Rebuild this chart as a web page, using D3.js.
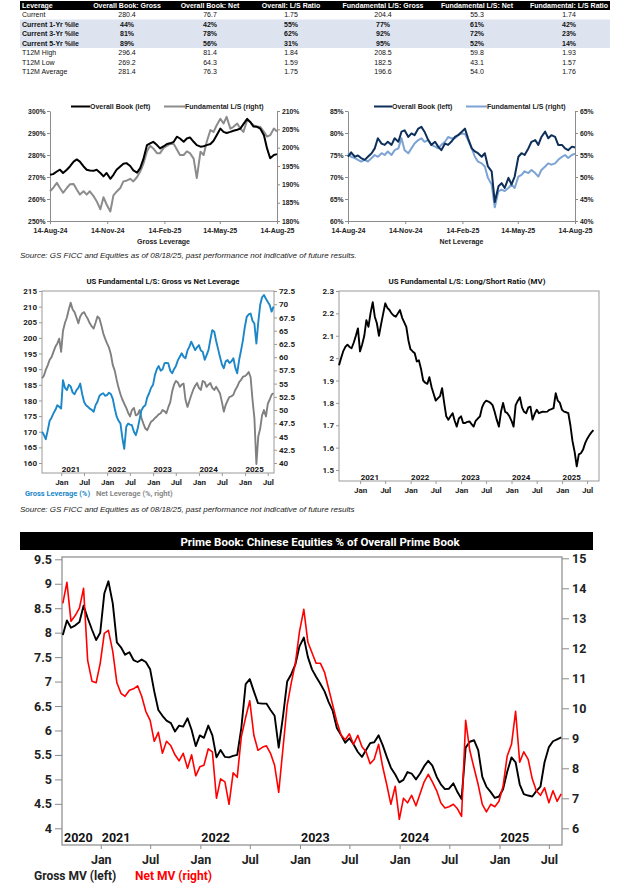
<!doctype html>
<html lang="en">
<head>
<meta charset="UTF-8" />
<title>Prime Book Leverage</title>
<style>
  body { margin: 0; background: #fff; }
  svg { display: block; }
</style>
</head>
<body>
<svg id="chart" width="618" height="891"></svg>
<script src="https://cdn.jsdelivr.net/npm/d3@7"></script>
<script>
// ---------- table ----------
const tableHeader = ["Leverage", "Overall Book: Gross", "Overall Book: Net", "Overall: L/S Ratio",
  "Fundamental L/S: Gross", "Fundamental L/S: Net", "Fundamental: L/S Ratio"];
const tableRows = [
  ["Current", "280.4", "76.7", "1.75", "204.4", "55.3", "1.74"],
  ["Current 1-Yr %ile", "44%", "42%", "55%", "77%", "61%", "42%"],
  ["Current 3-Yr %ile", "81%", "78%", "62%", "92%", "72%", "23%"],
  ["Current 5-Yr %ile", "89%", "56%", "31%", "95%", "52%", "14%"],
  ["T12M High", "296.4", "81.4", "1.84", "208.5", "59.8", "1.93"],
  ["T12M Low", "269.2", "64.3", "1.59", "182.5", "43.1", "1.57"],
  ["T12M Average", "281.4", "76.3", "1.75", "196.6", "54.0", "1.76"]
];

// ---------- one-year panels, 14-Aug-24 .. 14-Aug-25 ----------
const overallGross = [271, 271.3, 272.5, 273.3, 271.8, 273.3, 274.8, 277, 278, 277,
  274.8, 273.3, 273, 272.8, 273.3, 271.8, 270.3, 271.8, 269.2, 271,
  273.3, 274.8, 276, 276.3, 275, 273, 272, 274, 278, 284.5,
  285.3, 286, 284.5, 283, 284, 285, 285.3, 286, 288.3, 287.5,
  286, 287.5, 288, 286, 284.5, 283.8, 284, 284.5, 285, 286.5,
  289, 292, 290.5, 290, 290.5, 291, 291.5, 292, 294, 296.4,
  295, 293, 292.8, 292, 289, 283, 278.5, 280, 280.4];
const fundGross = [188.1, 189, 190.4, 189, 187.7, 189, 190, 190.1, 188.6, 187.2,
  188.1, 187.2, 188.1, 186.8, 185.4, 183.2, 186.5, 184.5, 182.6, 187,
  188, 189, 190.8, 191, 191.5, 190.8, 192, 193.5, 195.5, 199,
  200.5, 199.8, 198.5, 198.5, 200, 200.5, 201, 201, 199.5, 198,
  198, 199, 198.5, 197, 191.7, 198.9, 198, 201.6, 204.8, 204.3,
  206.1, 207.9, 206.6, 208.4, 205.2, 205.7, 206.6, 205.2, 204.3, 207.5,
  207, 206.1, 205.7, 205.7, 204.3, 203, 203.4, 205.2, 204.4];
const overallNet = [74.6, 75.6, 74.6, 74.9, 74.3, 73.9, 74.6, 75.4, 76.5, 78.8,
  77.6, 77.3, 78.0, 77.3, 78.8, 78.0, 80.3, 80.6, 79.1, 79.9,
  79.5, 81.0, 81.4, 80.3, 78.4, 77.3, 78.0, 76.9, 76.1, 77.6,
  77.3, 78.0, 79.1, 79.5, 80.3, 81.0, 78.8, 76.5, 75.8, 75.4,
  74.6, 75.4, 72.4, 71.3, 64.3, 67.9, 68.6, 67.5, 69.8, 68.3,
  70.1, 74.6, 75.4, 75.0, 76.5, 78.0, 78.4, 77.3, 79.1, 80.3,
  78.8, 79.5, 79.1, 77.3, 77.3, 76.5, 76.1, 76.9, 76.7];
const fundNet = [55.4, 54.6, 54.3, 53.9, 53.5, 53.9, 53.5, 54.3, 55.0, 54.6,
  55.4, 55.0, 55.8, 55.0, 56.1, 56.5, 58.8, 56.1, 55.4, 56.5,
  57.6, 58.4, 58.8, 58.0, 58.4, 57.3, 56.9, 56.5, 57.3, 58.0,
  59.1, 58.8, 58.8, 59.5, 59.9, 59.8, 58.4, 56.5, 54.6, 53.5,
  53.1, 52.4, 49.8, 48.3, 43.1, 46.8, 47.1, 46.8, 47.5, 48.3,
  47.5, 50.1, 50.5, 51.3, 50.9, 51.6, 50.9, 50.1, 51.6, 52.4,
  53.1, 52.8, 53.1, 53.9, 54.6, 55.0, 54.3, 55.0, 55.3];
const yearTickLabels = ["2024-08-14", "2024-11-14", "2025-02-14", "2025-05-14", "2025-08-14"];

// ---------- US Fundamental L/S, half-monthly from Aug 2020 ----------
const usGross = [170, 169, 167.6, 170.5, 173.5, 174.5, 175.9, 177, 178.5, 178,
  177.4, 186.5, 184, 183.3, 185, 184.5, 182.5, 182, 183.3, 184,
  185.4, 182, 179.5, 178.5, 178, 177.4, 177, 176.4, 178.5, 179.6,
  181.5, 182, 182.3, 181.5, 181.7, 182.5, 182, 180.5, 177.5, 174.8,
  173.5, 172.6, 168, 164.5, 171.6, 172.6, 172.3, 172.1, 170, 168.9,
  171, 174, 176.9, 178, 178.5, 181, 182.3, 184, 185, 188.1,
  190, 191, 189.5, 190, 191.9, 192, 191.9, 189.5, 188.7, 190,
  191, 192.9, 194, 195.1, 194, 193.5, 196, 197.2, 198.8, 197.5,
  196.1, 197, 197.7, 196, 195.6, 193, 194.5, 196.1, 199.5, 202.5,
  202, 199, 196.5, 194, 191.5, 190.3, 192.5, 192.9, 192, 192.5,
  193.5, 190.5, 188.7, 193, 196, 199.3, 203.5, 206.7, 207.5, 207.8,
  205.5, 204.6, 198.2, 205, 210.5, 213, 213.7, 212.5, 211.5, 210.5,
  208.4, 210];
const usNet = [56, 56.5, 57.6, 58.5, 59.5, 60, 61, 62, 62.6, 63.5,
  61, 65, 66.5, 67.5, 69, 70.3, 69, 68.5, 67.5, 66.4,
  67.7, 68.3, 68.5, 67.8, 67.2, 66.4, 65.8, 65.4, 66.5, 67.7,
  67.3, 66, 64.5, 63.5, 62.6, 61.8, 60.5, 58.5, 57.5, 55.7,
  54.2, 53, 52, 51.2, 50.4, 49.5, 48.8, 50, 50.4, 49,
  49.2, 50, 48.5, 47.4, 46.5, 46.2, 47, 47.8, 48.1, 48.5,
  48.8, 49.2, 49.4, 50, 49.8, 49.4, 50.5, 51.5, 53.5, 54.8,
  55.5, 55.2, 54.4, 54.8, 55, 52, 50.6, 51.7, 52.8, 53.8,
  54.6, 55.1, 54.2, 53.8, 55.5, 55.3, 54.4, 54.8, 55.1, 54.2,
  53.8, 54.4, 53.8, 53.2, 51.5, 49.7, 51, 51.8, 52.5, 52.6,
  52.9, 53.8, 54.4, 55.3, 55.7, 56.3, 56.4, 56.7, 57.2, 56.2,
  52, 48.5, 39.8, 45, 46.5, 49, 50, 48.8, 51.2, 52,
  52.9, 53.2];
const usRatio = [1.968, 2.0, 2.03, 2.05, 2.06, 2.05, 2.044, 2.07, 2.1, 2.133,
  2.03, 2.06, 2.1, 2.17, 2.14, 2.2, 2.25, 2.185, 2.156, 2.1,
  2.15, 2.2, 2.245, 2.225, 2.215, 2.2, 2.19, 2.185, 2.2, 2.215,
  2.18, 2.16, 2.14, 2.08, 2.04, 2.03, 2.022, 1.985, 1.99, 1.95,
  1.9, 1.89, 1.885, 1.915, 1.87, 1.84, 1.81, 1.82, 1.83, 1.866,
  1.8, 1.74, 1.725, 1.74, 1.754, 1.72, 1.694, 1.73, 1.74, 1.71,
  1.71, 1.715, 1.717, 1.705, 1.694, 1.72, 1.73, 1.74, 1.78, 1.8,
  1.81, 1.806, 1.8, 1.79, 1.76, 1.725, 1.694, 1.76, 1.8, 1.76,
  1.754, 1.74, 1.72, 1.694, 1.79, 1.81, 1.825, 1.78, 1.76, 1.754,
  1.78, 1.783, 1.725, 1.75, 1.769, 1.754, 1.758, 1.761, 1.76, 1.761,
  1.769, 1.772, 1.776, 1.843, 1.81, 1.8, 1.769, 1.761, 1.758, 1.754,
  1.7, 1.63, 1.58, 1.516, 1.57, 1.575, 1.59, 1.62, 1.64, 1.655,
  1.668, 1.678];
const grossTicks = [160, 165, 170, 175, 180, 185, 190, 195, 200, 205, 210, 215];
const netTicks = [40, 42.5, 45, 47.5, 50, 52.5, 55, 57.5, 60, 62.5, 65, 67.5, 70, 72.5];
const ratioTicks = [1.5, 1.6, 1.7, 1.8, 1.9, 2.0, 2.1, 2.2, 2.3];

// ---------- Prime Book China, half-monthly from mid-Aug 2020 ----------
const cnGross = [7.95, 8.25, 8.1, 8.15, 8.22, 8.55, 8.3, 8.06, 7.85, 8.0,
  8.8, 9.05, 8.6, 7.8, 7.7, 7.55, 7.6, 7.44, 7.4, 7.45,
  7.4, 7.25, 6.8, 6.42, 6.3, 6.2, 6.15, 5.98, 6.1, 6.08,
  6.25, 6.01, 5.68, 5.9, 5.85, 6.1, 5.9, 5.45, 5.6, 5.46,
  5.45, 5.48, 5.5, 6.05, 6.95, 7.05, 6.8, 6.56, 6.55, 6.55,
  6.42, 6.3, 5.65, 6.3, 7.0, 7.15, 7.35, 7.72, 7.9, 7.5,
  7.25, 7.1, 6.95, 6.8, 6.58, 6.4, 6.05, 5.9, 5.75, 5.84,
  5.72, 5.56, 5.46, 5.6, 5.74, 5.76, 5.9, 5.7, 5.46, 5.24,
  5.1, 4.94, 4.99, 5.15, 5.12, 5.0, 5.12, 5.27, 5.38, 5.28,
  5.05, 4.9, 4.8, 4.81, 4.92, 4.74, 4.6, 5.65, 5.77, 5.8,
  5.6, 5.05, 4.85, 4.74, 4.62, 4.65, 4.8, 5.15, 5.45, 5.35,
  4.9, 4.7, 4.67, 4.65, 4.76, 4.85, 5.35, 5.66, 5.78, 5.82,
  5.86];
const cnNet = [13.5, 14.2, 12.9, 13.1, 13.35, 14.0, 11.6, 10.9, 10.85, 11.5,
  12.5, 12.6, 11.9, 10.85, 10.5, 10.4, 10.6, 10.65, 10.75, 10.4,
  9.9, 9.6, 8.9, 9.2, 8.5, 8.9, 8.75, 8.45, 8.25, 8.5,
  8.0, 8.45, 7.75, 8.05, 8.1, 8.65, 8.55, 7.0, 7.65, 7.55,
  6.8, 7.85, 7.7, 9.05, 9.7, 10.25, 9.1, 8.6, 8.7, 8.75,
  8.5, 8.1, 7.2, 8.7, 10.1, 10.85, 11.5, 12.55, 13.3, 12.2,
  11.85, 11.5, 11.5, 11.2, 10.65, 10.1, 9.55, 9.1, 8.95, 9.15,
  8.8, 9.1, 8.72, 8.55, 8.15, 8.3, 8.8, 8.05, 7.45, 6.8,
  7.4, 6.3, 7.0, 6.85, 7.1, 6.75, 7.15, 7.55, 7.8, 7.55,
  7.25, 6.85, 6.68, 6.72, 6.8, 6.65, 6.4, 9.6, 8.6, 8.0,
  7.45, 6.8, 6.55, 6.8, 6.72, 6.9, 7.4, 8.4, 8.8, 9.9,
  8.2, 8.55, 8.3, 7.65, 7.25, 7.1, 7.35, 6.85, 7.25, 6.9,
  7.15];
const cnLeftTicks = [4, 4.5, 5, 5.5, 6, 6.5, 7, 7.5, 8, 8.5, 9, 9.5];
const cnRightTicks = [6, 7, 8, 9, 10, 11, 12, 13, 14, 15];

const yearLabels = [2021, 2022, 2023, 2024, 2025];
const monthLabels = ["2021-01-01", "2021-07-01", "2022-01-01", "2022-07-01", "2023-01-01",
  "2023-07-01", "2024-01-01", "2024-07-01", "2025-01-01", "2025-07-01"];

// ---------- helpers ----------
const svg = d3.select("#chart");
const SANS = '"Liberation Sans", Arial, sans-serif';
const ROB = 'Roboto, "Liberation Sans", sans-serif';
const parse = d3.timeParse("%Y-%m-%d");
const num = d => +(+d).toFixed(1) + "";

function txt(x, y, s, o = {}) {
  return svg.append("text").attr("x", x).attr("y", y).text(s)
    .attr("font-family", o.font || SANS).attr("font-size", o.size || 7)
    .attr("font-weight", o.weight || "normal").attr("font-style", o.style || "normal")
    .attr("fill", o.fill || "#000").attr("text-anchor", o.anchor || "start");
}

function styleAxis(sel, o) {
  sel.select(".domain").attr("stroke", o.domain ? o.stroke : "none");
  sel.selectAll(".tick line").attr("stroke", o.stroke);
  sel.selectAll(".tick text").attr("font-family", o.font).attr("font-size", o.size)
    .attr("font-weight", "bold").attr("fill", "#222");
}

function drawLine(data, dates, x, y, color, w) {
  svg.append("path").datum(data)
    .attr("d", d3.line().x((d, i) => x(dates[i])).y(d => y(d)))
    .attr("fill", "none").attr("stroke", color).attr("stroke-width", w)
    .attr("stroke-linejoin", "round");
}

const halfMonths = (start, n) => d3.range(n).map(i => d3.timeDay.offset(start, Math.round(i * 365.25 / 24)));

// ---------- table ----------
const colX = [22, 127, 210, 291, 383, 477, 569];
const rowH = 9.5, tTop = 1;
svg.append("rect").attr("x", 20).attr("y", tTop).attr("width", 590).attr("height", 9).attr("fill", "#000");
svg.append("rect").attr("x", 20).attr("y", tTop + 9 + rowH).attr("width", 590).attr("height", rowH * 3).attr("fill", "#dde4f0");
tableHeader.forEach((h, j) => txt(colX[j], tTop + 7, h, { weight: "bold", fill: "#fff", anchor: j ? "middle" : "start", size: 7 }));
tableRows.forEach((r, i) => r.forEach((c, j) =>
  txt(colX[j], tTop + 9 + rowH * i + 7, c, { weight: i >= 1 && i <= 3 ? "bold" : "normal", anchor: j ? "middle" : "start", size: 7, fill: "#111" })));

// ---------- one-year panels ----------
const wkStart = parse("2024-08-14"), wkEnd = parse("2025-08-14");
const wkDates = overallGross.map((_, i) => d3.timeDay.offset(wkStart, Math.round(i * 365 / 68)));

function yearPanel(o) {
  const x = d3.scaleTime().domain([wkStart, wkEnd]).range([o.x0, o.x1]);
  const yL = d3.scaleLinear().domain(o.leftDomain).range([221, 111]);
  const yR = d3.scaleLinear().domain(o.rightDomain).range([221, 111]);
  const st = { stroke: "#8c8c8c", font: SANS, size: 6.8, domain: true };
  svg.append("g").attr("transform", `translate(${o.x0},0)`)
    .call(d3.axisLeft(yL).tickValues(d3.range(o.leftDomain[0], o.leftDomain[1] + 1, o.leftStep))
      .tickSize(3).tickSizeOuter(0).tickPadding(1.5).tickFormat(d => d + "%"))
    .call(styleAxis, st);
  svg.append("g").attr("transform", `translate(${o.x1},0)`)
    .call(d3.axisRight(yR).tickValues(d3.range(o.rightDomain[0], o.rightDomain[1] + 1, 5))
      .tickSize(3).tickSizeOuter(0).tickPadding(2).tickFormat(d => d + "%"))
    .call(styleAxis, st);
  svg.append("g").attr("transform", "translate(0,221)")
    .call(d3.axisBottom(x).tickValues(yearTickLabels.map(parse)).tickSize(3).tickSizeOuter(0)
      .tickPadding(4.5).tickFormat(d3.timeFormat("%d-%b-%y")))
    .call(styleAxis, { ...st, size: 7 });
  drawLine(o.right, wkDates, x, yR, o.rightColor, 2);
  drawLine(o.left, wkDates, x, yL, o.leftColor, 2);
  txt((o.x0 + o.x1) / 2, 243.5, o.title, { weight: "bold", anchor: "middle", size: 7, fill: "#222" });
  // legend
  const lg = o.legend;
  [[lg[0], lg[1], o.leftColor, "Overall Book (left)"], [lg[2], lg[3], o.rightColor, "Fundamental L/S (right)"]]
    .forEach(([a, b, c, s]) => {
      svg.append("line").attr("x1", a).attr("x2", b).attr("y1", 106.5).attr("y2", 106.5)
        .attr("stroke", c).attr("stroke-width", 2);
      txt(b, 109, s, { weight: "bold", size: 7, fill: "#222" });
    });
}

yearPanel({ x0: 50, x1: 277, leftDomain: [250, 300], leftStep: 10, rightDomain: [180, 210],
  left: overallGross, right: fundGross, leftColor: "#000", rightColor: "#8c8c8c",
  title: "Gross Leverage", legend: [71, 90, 164, 185] });
yearPanel({ x0: 348, x1: 575, leftDomain: [60, 85], leftStep: 5, rightDomain: [40, 65],
  left: overallNet, right: fundNet, leftColor: "#0e2f5a", rightColor: "#7ba3d4",
  title: "Net Leverage", legend: [374, 392, 466, 487] });

const sourceText = "Source: GS FICC and Equities as of 08/18/25, past performance not indicative of future results";
txt(20, 258, sourceText + ".", { style: "italic", size: 8, fill: "#222" });

// ---------- US Fundamental L/S panels ----------
const usDates = halfMonths(parse("2020-08-01"), usGross.length);
const months = monthLabels.map(parse);

function usFrame(x0, x1, top, bottom, x, title, titleX, titleLen) {
  svg.append("rect").attr("x", x0).attr("y", top).attr("width", x1 - x0).attr("height", bottom - top)
    .attr("fill", "none").attr("stroke", "#9a9a9a").attr("stroke-width", 1);
  txt(titleX, 284, title, { font: ROB, weight: "bold", size: 8, anchor: "middle", fill: "#111" })
    .attr("textLength", titleLen).attr("lengthAdjust", "spacingAndGlyphs");
  yearLabels.forEach(yr => txt(x(new Date(yr, 0, 1)) + 0.5, bottom - 1.5, yr, { font: ROB, weight: "bold", size: 8, fill: "#111" }));
}

// Gross vs net
{
  const x = d3.scaleTime().domain([parse("2020-08-01"), parse("2025-08-20")]).range([42, 274]);
  const yL = d3.scaleLinear().domain([160, 215]).range([463, 291]);
  const yR = d3.scaleLinear().domain([40, 72.5]).range([463, 291]);
  const st = { stroke: "#9a9a9a", font: ROB, size: 8 };
  svg.append("g").attr("transform", "translate(42,0)")
    .call(d3.axisLeft(yL).tickValues(grossTicks).tickSize(3).tickPadding(2)).call(styleAxis, st);
  svg.append("g").attr("transform", "translate(274,0)")
    .call(d3.axisRight(yR).tickValues(netTicks).tickSize(3).tickPadding(2).tickFormat(num)).call(styleAxis, st);
  svg.append("g").attr("transform", "translate(0,473)")
    .call(d3.axisBottom(x).tickValues(months).tickSize(3).tickPadding(3.5).tickFormat(d3.timeFormat("%b"))).call(styleAxis, st);
  usFrame(42, 274, 291, 473, x, "US Fundamental L/S: Gross vs Net Leverage", 163, 153);
  drawLine(usNet, usDates, x, yR, "#808080", 1.9);
  drawLine(usGross, usDates, x, yL, "#1b87c9", 1.9);
  txt(25, 496, "Gross Leverage (%)", { font: ROB, weight: "bold", size: 7.5, fill: "#1b87c9" });
  txt(96, 496, "Net Leverage (%, right)", { font: ROB, weight: "bold", size: 7.5, fill: "#888" });
}

// Long/short ratio
{
  const x = d3.scaleTime().domain([parse("2020-08-01"), parse("2025-09-25")]).range([339, 599]);
  const y = d3.scaleLinear().domain([1.5, 2.3]).range([470, 291]);
  const st = { stroke: "#9a9a9a", font: ROB, size: 8 };
  svg.append("g").attr("transform", "translate(339,0)")
    .call(d3.axisLeft(y).tickValues(ratioTicks).tickSize(3).tickPadding(2).tickFormat(num)).call(styleAxis, st);
  svg.append("g").attr("transform", "translate(0,481)")
    .call(d3.axisBottom(x).tickValues(months).tickSize(3).tickPadding(3.8).tickFormat(d3.timeFormat("%b"))).call(styleAxis, st);
  usFrame(339, 599, 291, 481, x, "US Fundamental L/S: Long/Short Ratio (MV)", 467, 157);
  drawLine(usRatio, usDates, x, y, "#000", 1.9);
}

txt(20, 512, sourceText, { style: "italic", size: 8, fill: "#222" });

// ---------- Prime Book: Chinese equities ----------
{
  const cnDates = halfMonths(parse("2020-08-15"), cnGross.length);
  const x = d3.scaleTime().domain([parse("2020-08-12"), parse("2025-08-18")]).range([62, 562]);
  const yL = d3.scaleLinear().domain([4, 9.5]).range([828.3, 559.3]);
  const yR = d3.scaleLinear().domain([6, 15]).range([828.3, 558.3]);
  svg.append("rect").attr("x", 20).attr("y", 532).attr("width", 573).attr("height", 18).attr("fill", "#000");
  txt(320, 545.5, "Prime Book: Chinese Equities % of Overall Prime Book",
    { font: ROB, weight: "bold", size: 11.5, fill: "#fff", anchor: "middle" });
  const st = { stroke: "#8a8a8a", font: ROB, size: 12.5 };
  svg.append("g").attr("transform", "translate(62,0)")
    .call(d3.axisLeft(yL).tickValues(cnLeftTicks).tickSize(7).tickPadding(3).tickFormat(num)).call(styleAxis, st);
  svg.append("g").attr("transform", "translate(562,0)")
    .call(d3.axisRight(yR).tickValues(cnRightTicks).tickSize(7).tickPadding(3)).call(styleAxis, st);
  svg.append("g").attr("transform", "translate(0,845)")
    .call(d3.axisBottom(x).tickValues(months).tickSize(4).tickPadding(6.5).tickFormat(d3.timeFormat("%b"))).call(styleAxis, st);
  svg.append("rect").attr("x", 62).attr("y", 557).attr("width", 500).attr("height", 288)
    .attr("fill", "none").attr("stroke", "#8a8a8a").attr("stroke-width", 1.2);
  txt(64, 841.5, 2020, { font: ROB, weight: "bold", size: 12.5, fill: "#111" });
  yearLabels.forEach(yr => txt(x(new Date(yr, 0, 1)) + 1, 841.5, yr, { font: ROB, weight: "bold", size: 12.5, fill: "#111" }));
  drawLine(cnGross, cnDates, x, yL, "#000", 1.9);
  drawLine(cnNet, cnDates, x, yR, "#ff0000", 1.6);
  txt(34, 880, "Gross MV (left)", { font: ROB, weight: "bold", size: 12, fill: "#222" });
  txt(135, 880, "Net MV (right)", { font: ROB, weight: "bold", size: 12, fill: "#ff0000" });
}
</script>
</body>
</html>
